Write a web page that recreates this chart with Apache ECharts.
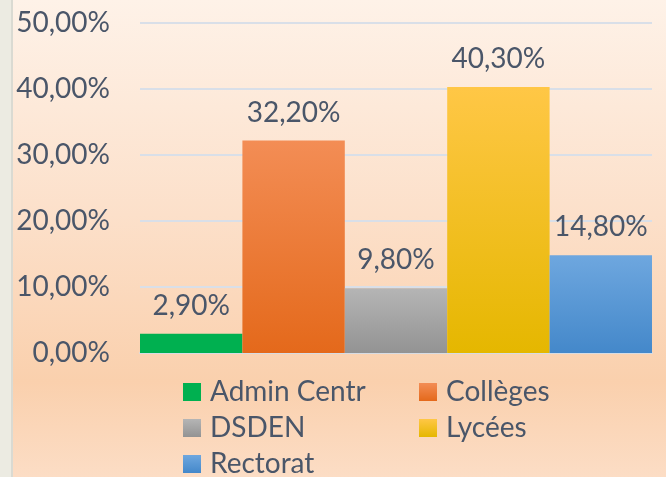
<!DOCTYPE html>
<html>
<head>
<meta charset="utf-8">
<script src="https://cdn.jsdelivr.net/npm/echarts@6/dist/echarts.min.js"></script>
<style>
  html, body { margin: 0; padding: 0; }
  #chart { width: 666px; height: 477px; }
</style>
</head>
<body>
<div id="chart"></div>
<script>
const seriesNames = ['Admin Centr', 'Collèges', 'DSDEN', 'Lycées', 'Rectorat'];
const seriesValues = [2.9, 32.2, 9.8, 40.3, 14.8];
const yTicks = { min: 0, max: 50, interval: 10 };

// top / bottom colour of each bar's gradient
const barColors = [
  ['#00B050', '#00B050'],
  ['#F38D55', '#E4691B'],
  ['#B5B5B5', '#939393'],
  ['#FFC746', '#E5B700'],
  ['#6EA7DF', '#4488CA']
];

const textColor = '#4A5669';
const fontFamily = 'Lato';

function pct(v) {
  return v.toFixed(2).replace('.', ',') + '%';
}

const chart = echarts.init(document.getElementById('chart'));

const series = seriesNames.map((name, i) => ({
  name,
  type: 'bar',
  barGap: '0%',
  barCategoryGap: '0%',
  data: [seriesValues[i]],
  itemStyle: {
    color: new echarts.graphic.LinearGradient(0, 0, 0, 1, [
      { offset: 0, color: barColors[i][0] },
      { offset: 1, color: barColors[i][1] }
    ])
  },
  label: {
    show: true,
    position: 'top',
    distance: 14,
    formatter: p => pct(p.value),
    color: textColor,
    fontFamily,
    fontSize: 28
  }
}));

const legendText = { color: textColor, fontFamily, fontSize: 28, lineHeight: 36, padding: [0, 0, 0, 4] };

chart.setOption({
  animation: false,
  graphic: [
    {
      type: 'rect', z: -10, silent: true,
      shape: { x: 0, y: 0, width: 666, height: 477 },
      style: {
        fill: new echarts.graphic.LinearGradient(0, 0, 0, 1, [
          { offset: 0, color: '#FEF2E8' },
          { offset: 0.45, color: '#FCE0CA' },
          { offset: 0.8, color: '#FAD0AD' },
          { offset: 1, color: '#FCDDC5' }
        ])
      }
    },
    { type: 'rect', z: -9, silent: true, shape: { x: 0, y: 0, width: 11, height: 477 }, style: { fill: '#ECEBE2' } },
    { type: 'rect', z: -9, silent: true, shape: { x: 11, y: 0, width: 2, height: 477 }, style: { fill: '#DADAD2' } }
  ],
  grid: { left: 140, right: 14, top: 23, bottom: 124 },
  legend: [
    {
      data: ['Admin Centr', 'DSDEN', 'Rectorat'],
      orient: 'vertical', left: 183, top: 374, height: 120, padding: 0,
      itemWidth: 18, itemHeight: 18, itemGap: 0,
      icon: 'rect', textStyle: legendText
    },
    {
      data: ['Collèges', 'Lycées'],
      orient: 'vertical', left: 419, top: 374, height: 120, padding: 0,
      itemWidth: 18, itemHeight: 18, itemGap: 0,
      icon: 'rect', textStyle: legendText
    }
  ],
  xAxis: {
    type: 'category',
    data: [''],
    axisLine: { show: true, lineStyle: { color: '#D6DCE4', width: 2 } },
    axisTick: { show: false },
    axisLabel: { show: false }
  },
  yAxis: {
    type: 'value',
    min: yTicks.min,
    max: yTicks.max,
    interval: yTicks.interval,
    axisLine: { show: false },
    axisTick: { show: false },
    splitLine: { lineStyle: { color: '#D9DFE8', width: 2 } },
    axisLabel: {
      margin: 30,
      formatter: v => pct(v),
      color: textColor,
      fontFamily,
      fontSize: 28
    }
  },
  series
});
</script>
</body>
</html>
